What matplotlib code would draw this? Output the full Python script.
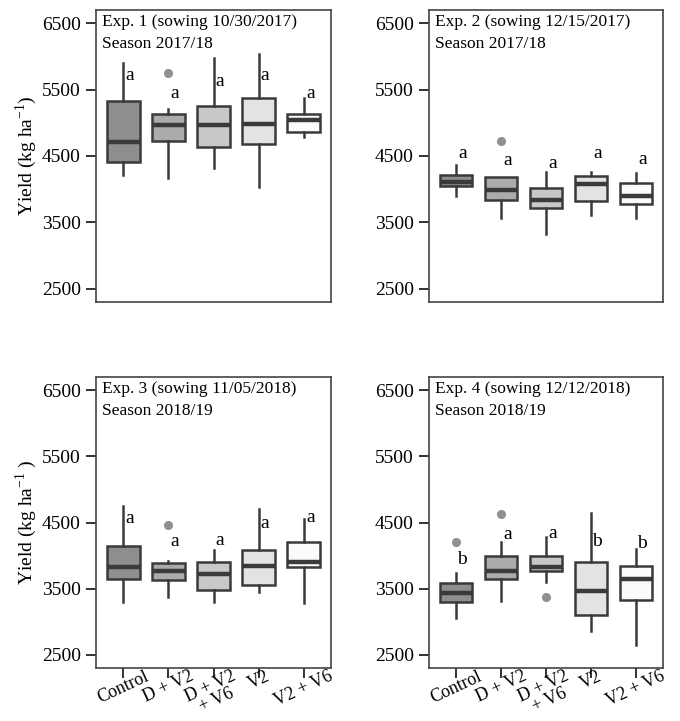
import matplotlib
matplotlib.use("Agg")
import matplotlib.pyplot as plt

plt.rcParams['font.family'] = ['Liberation Serif', 'DejaVu Serif']
plt.rcParams['mathtext.fontset'] = 'custom'
plt.rcParams['mathtext.rm'] = 'Liberation Serif'

categories = ["Control", "D + V2", "D + V2\n+ V6", "V2", "V2 + V6"]
fills = ["#8e8e8e", "#ababab", "#c8c8c8", "#e3e3e3", "#fbfbfb"]

titles = ["Exp. 1 (sowing 10/30/2017)\nSeason 2017/18",
          "Exp. 2 (sowing 12/15/2017)\nSeason 2017/18",
          "Exp. 3 (sowing 11/05/2018)\nSeason 2018/19",
          "Exp. 4 (sowing 12/12/2018)\nSeason 2018/19"]

# box statistics per experiment: lower whisker, Q1, median, Q3, upper whisker
exp1_whislo = [4219, 4169, 4320, 4029, 4781]
exp1_q1     = [4415, 4721, 4635, 4685, 4856]
exp1_med    = [4711, 4961, 4966, 4981, 5036]
exp1_q3     = [5322, 5132, 5257, 5367, 5132]
exp1_whishi = [5899, 5212, 5974, 6034, 5367]
exp1_fliers = [[], [5748], [], [], []]
exp1_letters = ["a", "a", "a", "a", "a"]
exp1_letter_y = [5708, 5447, 5623, 5708, 5447]

exp2_whislo = [3893, 3568, 3327, 3618, 3568]
exp2_q1     = [4044, 3833, 3713, 3828, 3783]
exp2_med    = [4104, 3984, 3843, 4084, 3903]
exp2_q3     = [4209, 4179, 4014, 4194, 4089]
exp2_whishi = [4370, 4179, 4264, 4254, 4249]
exp2_fliers = [[], [4731], [], [], []]
exp2_letters = ["a", "a", "a", "a", "a"]
exp2_letter_y = [4545, 4435, 4385, 4535, 4445]

exp3_whislo = [3305, 3370, 3300, 3450, 3290]
exp3_q1     = [3640, 3625, 3475, 3550, 3830]
exp3_med    = [3820, 3765, 3725, 3840, 3900]
exp3_q3     = [4140, 3890, 3905, 4090, 4200]
exp3_whishi = [4750, 3925, 4090, 4700, 4550]
exp3_fliers = [[], [4460], [], [], []]
exp3_letters = ["a", "a", "a", "a", "a"]
exp3_letter_y = [4560, 4215, 4230, 4480, 4580]

exp4_whislo = [3050, 3310, 3600, 2865, 2655]
exp4_q1     = [3300, 3640, 3770, 3105, 3330]
exp4_med    = [3440, 3765, 3830, 3465, 3640]
exp4_q3     = [3580, 4000, 4000, 3905, 3840]
exp4_whishi = [3740, 4200, 4275, 4640, 4100]
exp4_fliers = [[4205], [4625], [3380], [], []]
exp4_letters = ["b", "a", "a", "b", "b"]
exp4_letter_y = [3940, 4315, 4330, 4215, 4190]

yticks = [2500, 3500, 4500, 5500, 6500]

experiments = [
    (exp1_whislo, exp1_q1, exp1_med, exp1_q3, exp1_whishi, exp1_fliers, exp1_letters, exp1_letter_y),
    (exp2_whislo, exp2_q1, exp2_med, exp2_q3, exp2_whishi, exp2_fliers, exp2_letters, exp2_letter_y),
    (exp3_whislo, exp3_q1, exp3_med, exp3_q3, exp3_whishi, exp3_fliers, exp3_letters, exp3_letter_y),
    (exp4_whislo, exp4_q1, exp4_med, exp4_q3, exp4_whishi, exp4_fliers, exp4_letters, exp4_letter_y),
]

W, H = 680, 721
fig = plt.figure(figsize=(W / 100, H / 100), dpi=100)
rects = [
    (96 / W, 1 - 302 / H, 235 / W, 292 / H),
    (429 / W, 1 - 302 / H, 234 / W, 292 / H),
    (96 / W, 1 - 668 / H, 235 / W, 291 / H),
    (429 / W, 1 - 668 / H, 234 / W, 291 / H),
]

edge = "#3a3a3a"
for i, (rect, exp) in enumerate(zip(rects, experiments)):
    ax = fig.add_axes(rect)
    wlo, q1, med, q3, whi, fl, letters, ly = exp
    stats = []
    for k in range(len(categories)):
        stats.append(dict(whislo=wlo[k], q1=q1[k], med=med[k], q3=q3[k],
                          whishi=whi[k], fliers=fl[k]))
    pos = list(range(len(categories)))
    bp = ax.bxp(stats, positions=pos, widths=0.73, patch_artist=True,
                showcaps=False,
                boxprops=dict(edgecolor=edge, linewidth=1.8),
                whiskerprops=dict(color=edge, linewidth=1.8),
                medianprops=dict(color=edge, linewidth=3.2),
                flierprops=dict(marker='o', markerfacecolor='#8f8f8f',
                                markeredgecolor='#8f8f8f', markersize=5.5))
    for patch, c in zip(bp['boxes'], fills):
        patch.set_facecolor(c)
    for k in range(len(categories)):
        ax.text(pos[k] + 0.14, ly[k], letters[k], ha='center', va='center',
                fontsize=14)
    ax.set_xlim(-0.6, 4.6)
    ax.set_ylim(2300, 6700)
    ax.set_yticks(yticks)
    ax.set_yticklabels([str(t) for t in yticks], fontsize=14)
    ax.tick_params(axis='y', length=7, width=1.3, color='#222222', pad=4)
    for s in ax.spines.values():
        s.set_color('#444444')
        s.set_linewidth(1.2)
    ax.text(0.025, 0.985, titles[i], transform=ax.transAxes, ha='left', va='top',
            fontsize=12.5, linespacing=1.45)
    if i < 2:
        ax.set_xticks([])
    else:
        ax.set_xticks(pos)
        ax.set_xticklabels(categories, rotation=25, ha='center', va='top',
                           fontsize=13, multialignment='center',
                           linespacing=0.8)
        ax.tick_params(axis='x', length=7, width=1.3, color='#222222', pad=-7)
    if i == 0:
        ax.set_ylabel("Yield (kg ha$^{-1}$)", fontsize=14, labelpad=2)
    elif i == 2:
        ax.set_ylabel("Yield (kg ha$^{-1}$ )", fontsize=14, labelpad=2)

fig.savefig("out.png", dpi=100)
